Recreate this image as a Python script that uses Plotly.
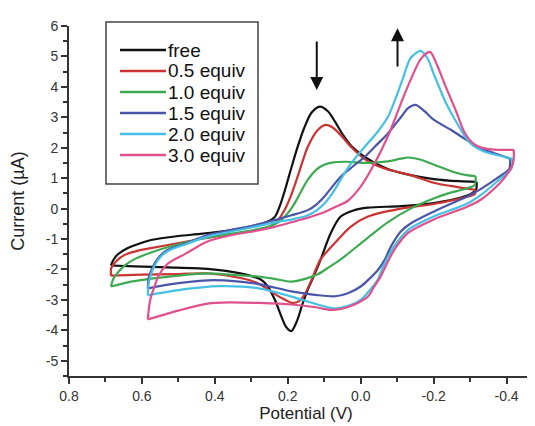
import plotly.graph_objects as go

# ---------------- data (potential V, current uA), loop: upper branch then lower branch
series_names = ["free", "0.5 equiv", "1.0 equiv", "1.5 equiv", "2.0 equiv", "3.0 equiv"]
series_colors = ["#111111", "#cc3333", "#3daa52", "#4b55a8", "#45c0e4", "#e0508c"]

free_V = [0.685, 0.678, 0.666, 0.64, 0.6, 0.575, 0.5, 0.44, 0.36, 0.3, 0.26, 0.236, 0.22, 0.205, 0.19,
          0.173, 0.155, 0.135, 0.112, 0.09, 0.07, 0.05, 0.025, -0.011, -0.074, -0.137, -0.2, -0.27, -0.318,
          -0.316, -0.29, -0.2, -0.11, -0.02, 0.02, 0.055, 0.082, 0.11, 0.13, 0.145, 0.16, 0.175, 0.19, 0.205,
          0.219, 0.236, 0.255, 0.274, 0.33, 0.42, 0.53, 0.62, 0.685]
free_I = [-1.87, -1.68, -1.5, -1.3, -1.12, -1.03, -0.9, -0.83, -0.72, -0.6, -0.45, -0.28, 0.15, 0.72, 1.35,
          2.03, 2.65, 3.15, 3.35, 3.2, 2.85, 2.45, 2.05, 1.7, 1.3, 1.1, 0.97, 0.9, 0.88,
          0.62, 0.42, 0.18, 0.08, 0.03, -0.06, -0.26, -0.8, -1.68, -2.25, -2.66, -3.15, -3.7, -4.02, -3.88,
          -3.5, -2.98, -2.55, -2.33, -2.13, -1.98, -1.93, -1.9, -1.87]

eq05_V = [0.685, 0.684, 0.67, 0.647, 0.61, 0.575, 0.5, 0.44, 0.36, 0.29, 0.25, 0.225, 0.208, 0.192, 0.173,
          0.158, 0.145, 0.12, 0.096, 0.075, 0.05, 0.027, -0.02, -0.07, -0.137, -0.2, -0.27, -0.315,
          -0.313, -0.29, -0.2, -0.11, -0.02, 0.027, 0.071, 0.11, 0.137, 0.155, 0.17, 0.186, 0.21, 0.236,
          0.282, 0.33, 0.42, 0.5, 0.6, 0.685]
eq05_I = [-2.2, -1.95, -1.72, -1.52, -1.38, -1.3, -1.13, -1.0, -0.85, -0.72, -0.6, -0.35, -0.03, 0.4, 1.05,
          1.6, 2.03, 2.55, 2.75, 2.65, 2.35, 2.03, 1.55, 1.3, 1.1, 0.85, 0.7, 0.62,
          0.48, 0.38, 0.15, 0.0, -0.26, -0.59, -1.13, -1.67, -2.4, -2.85, -3.05, -3.1, -2.98, -2.8,
          -2.45, -2.28, -2.13, -2.15, -2.17, -2.2]

eq10_V = [0.685, 0.678, 0.666, 0.645, 0.62, 0.575, 0.53, 0.44, 0.38, 0.3, 0.25, 0.22, 0.2, 0.185, 0.173,
          0.145, 0.12, 0.1, 0.075, 0.04, -0.02, -0.074, -0.11, -0.13, -0.16, -0.2, -0.25, -0.29, -0.315,
          -0.313, -0.29, -0.24, -0.2, -0.137, -0.074, -0.015, 0.055, 0.09, 0.118, 0.15, 0.19, 0.24, 0.282,
          0.35, 0.42, 0.5, 0.575, 0.63, 0.685]
eq10_I = [-2.56, -2.3, -2.1, -1.85, -1.66, -1.44, -1.27, -1.0, -0.87, -0.72, -0.58, -0.4, -0.15, 0.1, 0.35,
          0.95, 1.3, 1.44, 1.52, 1.54, 1.5, 1.55, 1.64, 1.68, 1.62, 1.45, 1.22, 1.1, 1.07,
          0.78, 0.66, 0.5, 0.33, 0.0, -0.45, -1.0, -1.67, -1.95, -2.16, -2.3, -2.4, -2.3, -2.23,
          -2.18, -2.13, -2.2, -2.3, -2.4, -2.56]

eq15_V = [0.584, 0.581, 0.573, 0.565, 0.55, 0.53, 0.48, 0.42, 0.35, 0.3, 0.236, 0.19, 0.145, 0.12, 0.1,
          0.055, 0.02, -0.011, -0.04, -0.074, -0.11, -0.13, -0.151, -0.175, -0.2, -0.247, -0.29, -0.34,
          -0.38, -0.41,
          -0.407, -0.38, -0.33, -0.29, -0.2, -0.137, -0.11, -0.085, -0.065, -0.045, -0.02, 0.0, 0.035,
          0.07, 0.12, 0.19, 0.28, 0.4, 0.5, 0.584]
eq15_I = [-2.62, -2.25, -2.0, -1.8, -1.55, -1.36, -1.15, -0.87, -0.68, -0.57, -0.38, -0.22, -0.05, 0.15, 0.39,
          1.05, 1.4, 1.7, 2.05, 2.46, 3.0, 3.3, 3.41, 3.2, 2.92, 2.59, 2.26, 1.93,
          1.77, 1.64,
          1.3, 1.05, 0.65, 0.39, -0.1, -0.49, -0.75, -1.2, -1.7, -2.05, -2.35, -2.56, -2.78,
          -2.88, -2.84, -2.72, -2.48, -2.35, -2.45, -2.62]

eq20_V = [0.584, 0.582, 0.577, 0.565, 0.55, 0.53, 0.48, 0.42, 0.35, 0.3, 0.236, 0.19, 0.145, 0.12, 0.1,
          0.075, 0.055, 0.027, -0.011, -0.045, -0.074, -0.095, -0.115, -0.137, -0.164, -0.185, -0.2,
          -0.215, -0.23, -0.25, -0.27, -0.29, -0.31, -0.34, -0.37, -0.416,
          -0.413, -0.38, -0.33, -0.29, -0.2, -0.13, -0.1, -0.08, -0.06, -0.047, -0.02, 0.0, 0.03, 0.07,
          0.118, 0.19, 0.28, 0.39, 0.5, 0.584]
eq20_I = [-2.85, -2.5, -2.23, -1.87, -1.6, -1.4, -1.17, -0.92, -0.74, -0.62, -0.45, -0.36, -0.22, -0.05, 0.16,
          0.55, 0.95, 1.48, 2.03, 2.5, 3.0, 3.6, 4.25, 4.95, 5.18, 4.9, 4.43,
          4.0, 3.57, 3.1, 2.69, 2.3, 2.05, 1.87, 1.77, 1.64,
          1.3, 0.95, 0.45, 0.15, -0.26, -0.7, -1.1, -1.47, -1.95, -2.33, -2.75, -3.0, -3.18, -3.28,
          -3.15, -2.89, -2.62, -2.55, -2.68, -2.85]

eq30_V = [0.584, 0.58, 0.575, 0.565, 0.556, 0.53, 0.48, 0.42, 0.35, 0.3, 0.236, 0.19, 0.145, 0.1, 0.07,
          0.036, 0.0, -0.038, -0.074, -0.093, -0.115, -0.137, -0.165, -0.19, -0.21, -0.23, -0.26, -0.285,
          -0.31, -0.34, -0.38, -0.42,
          -0.418, -0.4, -0.38, -0.33, -0.29, -0.2, -0.13, -0.093, -0.07, -0.055, -0.035, -0.02, 0.027,
          0.08, 0.118, 0.19, 0.28, 0.36, 0.42, 0.5, 0.584]
eq30_I = [-3.64, -3.2, -2.89, -2.55, -2.25, -1.82, -1.48, -1.08, -0.86, -0.76, -0.6, -0.45, -0.3, -0.12, 0.05,
          0.25, 0.72, 1.48, 2.36, 2.92, 3.6, 4.23, 4.92, 5.15, 4.7, 4.1, 3.25, 2.5,
          2.13, 1.98, 1.93, 1.93,
          1.5, 1.1, 0.82, 0.3, 0.05, -0.36, -0.8, -1.34, -1.85, -2.23, -2.6, -2.89, -3.2,
          -3.33, -3.25, -3.15, -3.1, -3.08, -3.12, -3.35, -3.64]

series_V = [free_V, eq05_V, eq10_V, eq15_V, eq20_V, eq30_V]
series_I = [free_I, eq05_I, eq10_I, eq15_I, eq20_I, eq30_I]

x_tickvals = [0.8, 0.6, 0.4, 0.2, 0.0, -0.2, -0.4]
x_ticktext = ["0.8", "0.6", "0.4", "0.2", "0.0", "-0.2", "-0.4"]
y_tickvals = [6, 5, 4, 3, 2, 1, 0, -1, -2, -3, -4, -5]
y_ticktext = ["6", "5", "4", "3", "2", "1", "0", "-1", "-2", "-3", "-4", "-5"]

# ---------------- layout geometry
W, H = 535, 426
ML, MR, MT, MB = 61, 0, 18, 58
PW, PH = W - ML - MR, H - MT - MB


def px_x(p):
    return (p - ML) / PW


def px_y(p):
    return (H - MB - p) / PH


AXC = "#333333"
FONT = "Liberation Sans, Arial, sans-serif"

fig = go.Figure()
for name, color, V, I in zip(series_names, series_colors, series_V, series_I):
    k = V.index(min(V))
    for xs, ys in ((V[:k + 1], I[:k + 1]), (V[k:], I[k:])):
        fig.add_trace(go.Scatter(x=xs, y=ys, mode="lines", name=name, legendgroup=name,
                                 showlegend=False,
                                 line=dict(color=color, width=2.2, shape="spline", smoothing=0.8)))

shapes = [dict(type="rect", xref="paper", yref="paper", x0=px_x(98), x1=px_x(250),
               y0=px_y(176), y1=px_y(14), line=dict(color="#444444", width=1.5),
               fillcolor="rgba(0,0,0,0)")]
annotations = []
for i, (name, color) in enumerate(zip(series_names, series_colors)):
    yc = px_y(42 + 21 * i)
    shapes.append(dict(type="line", xref="paper", yref="paper", x0=px_x(112), x1=px_x(158),
                       y0=yc, y1=yc, line=dict(color=color, width=2.5)))
    annotations.append(dict(xref="paper", yref="paper", x=px_x(157.5), y=yc, text=name,
                            showarrow=False, xanchor="left", yanchor="middle",
                            font=dict(family=FONT, size=19, color="#111111")))

# arrows
annotations.append(dict(x=0.1205, y=3.9, ax=0.1205, ay=5.54, xref="x", yref="y", axref="x", ayref="y",
                        text="", showarrow=True, arrowhead=2, arrowsize=1.3, arrowwidth=2, arrowcolor="#111111"))
annotations.append(dict(x=-0.101, y=5.93, ax=-0.101, ay=4.62, xref="x", yref="y", axref="x", ayref="y",
                        text="", showarrow=True, arrowhead=2, arrowsize=1.3, arrowwidth=2, arrowcolor="#111111"))

fig.update_layout(
    width=W, height=H,
    margin=dict(l=ML, r=MR, t=MT, b=MB, pad=0),
    paper_bgcolor="white", plot_bgcolor="white",
    font=dict(family=FONT, color="#222222"),
    shapes=shapes, annotations=annotations,
    showlegend=False,
    xaxis=dict(range=[0.8, -0.5], showline=True, linecolor=AXC, linewidth=2, showgrid=False,
               zeroline=False, ticks="outside", ticklen=6, tickwidth=2, tickcolor=AXC,
               tickmode="array", tickvals=x_tickvals, ticktext=x_ticktext,
               tickfont=dict(size=14, family=FONT, color="#333333"),
               minor=dict(ticks="outside", ticklen=4, tickwidth=1.5, tickcolor=AXC,
                          tickmode="linear", tick0=0, dtick=0.1),
               title=dict(text="Potential (V)", font=dict(size=17, family=FONT, color="#222222"),
                          standoff=3)),
    yaxis=dict(range=[-5.5, 6], showline=True, linecolor=AXC, linewidth=2, showgrid=False,
               zeroline=False, ticks="outside", ticklen=6, tickwidth=2, tickcolor=AXC,
               tickmode="array", tickvals=y_tickvals, ticktext=y_ticktext,
               tickfont=dict(size=14, family=FONT, color="#333333"),
               minor=dict(ticks="outside", ticklen=4, tickwidth=1.5, tickcolor=AXC,
                          tickmode="linear", tick0=0, dtick=0.5),
               title=dict(text="Current (µA)", font=dict(size=18, family=FONT, color="#222222"),
                          standoff=16)),
)

fig.write_html("out.html")
